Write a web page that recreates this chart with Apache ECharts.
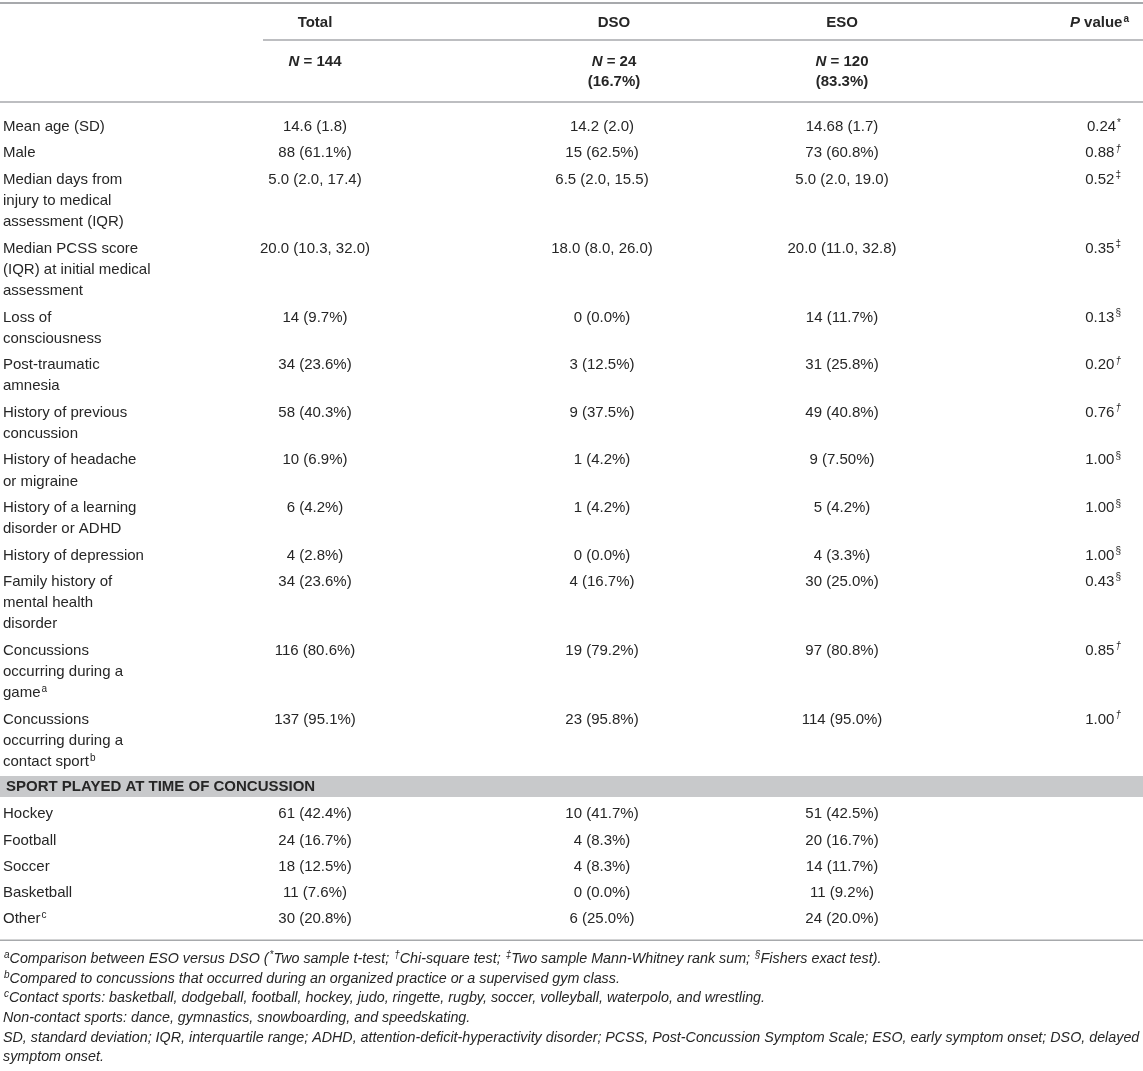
<!DOCTYPE html>
<html>
<head>
<meta charset="utf-8">
<script src="https://cdn.jsdelivr.net/npm/echarts@6/dist/echarts.min.js"></script>
<style>
  html, body { margin: 0; padding: 0; background: #fff; }
  #main { width: 1143px; height: 1071px; }
</style>
</head>
<body>
<div id="main"></div>
<script>
// ---- table content ----
// markup: ^{x} = superscript, ~{x} = italic
var headers = ['Total', 'DSO', 'ESO', '~{P} value^{a}'];
var groupN = ['~{N} = 144', '~{N} = 24', '~{N} = 120'];
var groupPct = ['', '(16.7%)', '(83.3%)'];

var rowLabels = [
  ['Mean age (SD)'],
  ['Male'],
  ['Median days from', 'injury to medical', 'assessment (IQR)'],
  ['Median PCSS score', '(IQR) at initial medical', 'assessment'],
  ['Loss of', 'consciousness'],
  ['Post-traumatic', 'amnesia'],
  ['History of previous', 'concussion'],
  ['History of headache', 'or migraine'],
  ['History of a learning', 'disorder or ADHD'],
  ['History of depression'],
  ['Family history of', 'mental health', 'disorder'],
  ['Concussions', 'occurring during a', 'game^{a}'],
  ['Concussions', 'occurring during a', 'contact sport^{b}']
];
var totalVals = ['14.6 (1.8)', '88 (61.1%)', '5.0 (2.0, 17.4)', '20.0 (10.3, 32.0)', '14 (9.7%)',
  '34 (23.6%)', '58 (40.3%)', '10 (6.9%)', '6 (4.2%)', '4 (2.8%)', '34 (23.6%)', '116 (80.6%)', '137 (95.1%)'];
var dsoVals = ['14.2 (2.0)', '15 (62.5%)', '6.5 (2.0, 15.5)', '18.0 (8.0, 26.0)', '0 (0.0%)',
  '3 (12.5%)', '9 (37.5%)', '1 (4.2%)', '1 (4.2%)', '0 (0.0%)', '4 (16.7%)', '19 (79.2%)', '23 (95.8%)'];
var esoVals = ['14.68 (1.7)', '73 (60.8%)', '5.0 (2.0, 19.0)', '20.0 (11.0, 32.8)', '14 (11.7%)',
  '31 (25.8%)', '49 (40.8%)', '9 (7.50%)', '5 (4.2%)', '4 (3.3%)', '30 (25.0%)', '97 (80.8%)', '114 (95.0%)'];
var pVals = ['0.24', '0.88', '0.52', '0.35', '0.13', '0.20', '0.76', '1.00', '1.00', '1.00', '0.43', '0.85', '1.00'];
var pTests = ['*', '†', '‡', '‡', '§', '†', '†', '§', '§', '§', '§', '†', '†'];

var sectionTitle = 'SPORT PLAYED AT TIME OF CONCUSSION';
var sports = ['Hockey', 'Football', 'Soccer', 'Basketball', 'Other^{c}'];
var sportTotal = ['61 (42.4%)', '24 (16.7%)', '18 (12.5%)', '11 (7.6%)', '30 (20.8%)'];
var sportDso = ['10 (41.7%)', '4 (8.3%)', '4 (8.3%)', '0 (0.0%)', '6 (25.0%)'];
var sportEso = ['51 (42.5%)', '20 (16.7%)', '14 (11.7%)', '11 (9.2%)', '24 (20.0%)'];

var footnotes = [
  '^{a}Comparison between ESO versus DSO (^{*}Two sample t-test; ^{†}Chi-square test; ^{‡}Two sample Mann-Whitney rank sum; ^{§}Fishers exact test).',
  '^{b}Compared to concussions that occurred during an organized practice or a supervised gym class.',
  '^{c}Contact sports: basketball, dodgeball, football, hockey, judo, ringette, rugby, soccer, volleyball, waterpolo, and wrestling.',
  'Non-contact sports: dance, gymnastics, snowboarding, and speedskating.',
  'SD, standard deviation; IQR, interquartile range; ADHD, attention-deficit-hyperactivity disorder; PCSS, Post-Concussion Symptom Scale; ESO, early symptom onset; DSO, delayed',
  'symptom onset.'
];

// ---- layout ----
var W = 1143, H = 1071;
var FONT = '"Liberation Sans", Arial, Helvetica, sans-serif';
var INK = '#262626', RULE = '#a7a9ac', BAND = '#c8c9cb';
var labelX = 3, totalX = 315, dsoHeadX = 614, dsoX = 602, esoX = 842, pX = 1121, pHeadX = 1129;
var lineStep = 21.3, rowStep = 26.3, footStep = 19.6;

function toRich(s) {
  return s.replace(/\^\{†\}/g, '{supi|†}')
    .replace(/\^\{([^}]*)\}/g, '{sup|$1}')
    .replace(/~\{([^}]*)\}/g, '{it|$1}');
}

var cells = [];   // {x, y, text, align, kind}
var rules = [];   // {x1, x2, y, w}
var bands = [];   // {y, h}

function cell(x, y, text, align, kind) {
  cells.push({ x: x, y: y, text: toRich(text), align: align, kind: kind || 'body' });
}

// header
var headY = 23, nY = 62;
cell(totalX, headY, headers[0], 'center', 'head');
cell(dsoHeadX, headY, headers[1], 'center', 'head');
cell(esoX, headY, headers[2], 'center', 'head');
cell(pHeadX, headY, headers[3], 'right', 'head');
var nCenters = [totalX, dsoHeadX, esoX];
groupN.forEach(function (t, i) {
  cell(nCenters[i], nY, t, 'center', 'head');
  if (groupPct[i]) cell(nCenters[i], nY + 20, groupPct[i], 'center', 'head');
});
rules.push({ x1: 0, x2: W, y: 3, w: 2 });
rules.push({ x1: 263, x2: W, y: 40, w: 1.5 });
rules.push({ x1: 0, x2: W, y: 102, w: 1.5 });

// body rows
var y = 127, lastLineY = y;
rowLabels.forEach(function (lines, i) {
  lines.forEach(function (t, k) { cell(labelX, y + k * lineStep, t, 'left'); });
  cell(totalX, y, totalVals[i], 'center');
  cell(dsoX, y, dsoVals[i], 'center');
  cell(esoX, y, esoVals[i], 'center');
  cell(pX, y, pVals[i] + '^{' + pTests[i] + '}', 'right');
  lastLineY = y + (lines.length - 1) * lineStep;
  y = lastLineY + rowStep;
});

// section band
var bandTop = lastLineY + 14;
bands.push({ y: bandTop, h: 21 });
cell(6, bandTop + 10.5, sectionTitle, 'left', 'section');

y = bandTop + 21 + 17;
sports.forEach(function (s, i) {
  cell(labelX, y, s, 'left');
  cell(totalX, y, sportTotal[i], 'center');
  cell(dsoX, y, sportDso[i], 'center');
  cell(esoX, y, sportEso[i], 'center');
  lastLineY = y;
  y += rowStep;
});
var bottomRule = lastLineY + 21;
rules.push({ x1: 0, x2: W, y: bottomRule, w: 1.5 });

footnotes.forEach(function (t, i) {
  cell(labelX, bottomRule + 19 + i * footStep, t, 'left', 'foot');
});

// ---- chart ----
var chart = echarts.init(document.getElementById('main'));

var styles = {
  body: { fontSize: 15, fontWeight: 'normal', fontStyle: 'normal', sup: 10 },
  head: { fontSize: 15, fontWeight: 'bold', fontStyle: 'normal', sup: 10 },
  section: { fontSize: 15, fontWeight: 'bold', fontStyle: 'normal', sup: 10 },
  foot: { fontSize: 14.3, fontWeight: 'normal', fontStyle: 'italic', sup: 10 }
};

function textEl(c, api) {
  var p = api.coord([api.value(0), api.value(1)]);
  var st = styles[c.kind];
  function part(extra) {
    var o = { fontFamily: FONT, fontSize: st.fontSize, fontWeight: st.fontWeight, fontStyle: st.fontStyle, fill: INK, lineHeight: 18 };
    for (var k in extra) o[k] = extra[k];
    return o;
  }
  return {
    type: 'text',
    x: p[0], y: p[1],
    style: {
      text: c.text,
      fill: INK,
      fontFamily: FONT,
      fontSize: st.fontSize,
      fontWeight: st.fontWeight,
      fontStyle: st.fontStyle,
      align: c.align,
      verticalAlign: 'middle',
      lineHeight: 18,
      rich: {
        sup: part({ fontSize: st.sup, verticalAlign: 'top', padding: [0, 0, 0, 1] }),
        supi: part({ fontSize: st.sup, fontStyle: 'italic', verticalAlign: 'top', padding: [0, 0, 0, 1] }),
        it: part({ fontStyle: 'italic' })
      }
    }
  };
}

chart.setOption({
  animation: false,
  grid: { left: 0, right: 0, top: 0, bottom: 0 },
  xAxis: { type: 'value', min: 0, max: W, show: false },
  yAxis: { type: 'value', min: 0, max: H, inverse: true, show: false },
  series: [
    {
      type: 'custom',
      name: 'bands',
      data: bands.map(function (b) { return [0, b.y, W, b.y + b.h]; }),
      renderItem: function (params, api) {
        var a = api.coord([api.value(0), api.value(1)]);
        var b = api.coord([api.value(2), api.value(3)]);
        return { type: 'rect', shape: { x: a[0], y: a[1], width: b[0] - a[0], height: b[1] - a[1] }, style: { fill: BAND } };
      }
    },
    {
      type: 'custom',
      name: 'rules',
      data: rules.map(function (r) { return [r.x1, r.y, r.x2, r.w]; }),
      renderItem: function (params, api) {
        var a = api.coord([api.value(0), api.value(1)]);
        var b = api.coord([api.value(2), api.value(1)]);
        return { type: 'line', shape: { x1: a[0], y1: a[1], x2: b[0], y2: b[1] }, style: { stroke: RULE, lineWidth: api.value(3) } };
      }
    },
    {
      type: 'custom',
      name: 'cells',
      data: cells.map(function (c) { return [c.x, c.y]; }),
      renderItem: function (params, api) {
        return textEl(cells[params.dataIndex], api);
      }
    }
  ]
});
</script>
</body>
</html>
